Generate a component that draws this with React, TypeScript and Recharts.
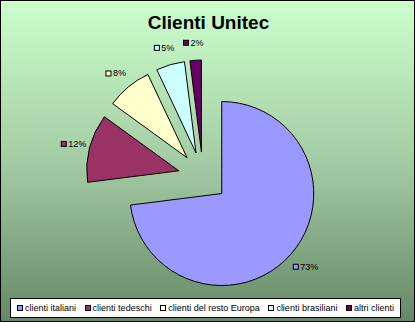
import React from 'react';
import { PieChart, Pie, Cell, Legend } from 'recharts';

// slices, clockwise from 12 o'clock as in the original workbook chart
const categories = [
  'clienti italiani',
  'clienti tedeschi',
  'clienti del resto Europa',
  'clienti brasiliani',
  'altri clienti',
];
const shares = [73, 12, 8, 5, 2];
const colors = ['#9999ff', '#993366', '#ffffcc', '#ccffff', '#660066'];

const W = 415;
const H = 322;
const CX = 203;
const CY = 177;
const RADIUS = 92;
const EXPLODE = 25;
const FONT = '"Liberation Sans", Arial, sans-serif';

const data = categories.map((name, i) => ({ name, value: shares[i] }));
const total = shares.reduce((a, b) => a + b, 0);

// every slice pulled out along its own mid angle
let acc = 0;
const offsets = shares.map((v) => {
  const mid = (((acc + v / 2) / total) * 360 * Math.PI) / 180;
  acc += v;
  return { dx: EXPLODE * Math.sin(mid), dy: -EXPLODE * Math.cos(mid) };
});

const RAD = Math.PI / 180;

const makeLabel = (slice: number) => (props: any) => {
  if (props.index !== slice) return null;
  const r = props.outerRadius + 18;
  const x = props.cx + r * Math.cos(-props.midAngle * RAD);
  const y = props.cy + r * Math.sin(-props.midAngle * RAD);
  const txt = `${Math.round((props.value / total) * 100)}%`;
  return (
    <g>
      <rect x={x - 11} y={y - 2} width={5} height={5} fill={colors[slice]} stroke="#000" strokeWidth={1} />
      <text x={x - 4} y={y + 3.5} fontSize={9} fontFamily={FONT} fill="#000">
        {txt}
      </text>
    </g>
  );
};

const renderLegend = () => (
  <div
    style={{
      boxSizing: 'border-box',
      width: '100%',
      height: '100%',
      background: '#fff',
      border: '1px solid #000',
      display: 'flex',
      alignItems: 'center',
      justifyContent: 'space-between',
      padding: '0 6px',
      fontFamily: FONT,
      fontSize: 9,
      color: '#000',
    }}
  >
    {categories.map((c, i) => (
      <span key={c} style={{ display: 'flex', alignItems: 'center', whiteSpace: 'nowrap' }}>
        <span
          style={{
            display: 'inline-block',
            boxSizing: 'border-box',
            width: 6,
            height: 6,
            background: colors[i],
            border: '1px solid #000',
            marginRight: 2,
          }}
        />
        {c}
      </span>
    ))}
  </div>
);

export default function App() {
  return (
    <div
      style={{
        position: 'absolute',
        left: 0,
        top: 0,
        width: W,
        height: H,
        boxSizing: 'border-box',
        border: '1px solid #000',
        background: 'linear-gradient(to bottom, #ccffcc 0%, #a4cca4 50%, #668866 100%)',
      }}
    >
      <div
        style={{
          position: 'absolute',
          left: 0,
          top: 11,
          width: W,
          textAlign: 'center',
          fontFamily: FONT,
          fontWeight: 'bold',
          fontSize: 19,
          lineHeight: '22px',
          color: '#000',
        }}
      >
        Clienti Unitec
      </div>
      <div style={{ position: 'absolute', left: -1, top: -1 }}>
        <PieChart width={W} height={H} margin={{ top: 0, right: 0, bottom: 0, left: 0 }}>
          {shares.map((_, s) => (
            <Pie
              key={s}
              data={data}
              dataKey="value"
              nameKey="name"
              cx={CX + offsets[s].dx}
              cy={CY + offsets[s].dy}
              outerRadius={RADIUS}
              startAngle={90}
              endAngle={-270}
              label={makeLabel(s)}
              labelLine={false}
              isAnimationActive={false}
            >
              {data.map((d, i) => (
                <Cell
                  key={d.name}
                  fill={i === s ? colors[i] : 'none'}
                  stroke={i === s ? '#000' : 'none'}
                  strokeWidth={1}
                />
              ))}
            </Pie>
          ))}
          <Legend
            content={renderLegend}
            wrapperStyle={{ left: 10, top: 298, width: 391, height: 20 }}
          />
        </PieChart>
      </div>
    </div>
  );
}
